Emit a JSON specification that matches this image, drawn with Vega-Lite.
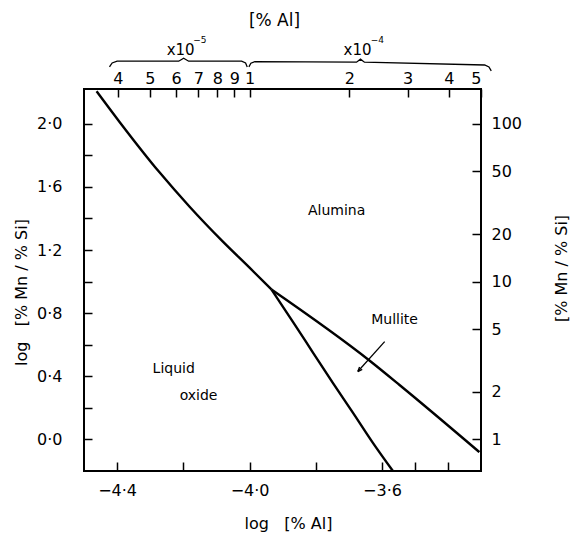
{
  "$schema": "https://vega.github.io/schema/vega-lite/v6.json",
  "width": 397,
  "height": 382,
  "autosize": "none",
  "padding": {"left": 84, "top": 89, "right": 94, "bottom": 62},
  "background": "white",
  "config": {
    "font": "DejaVu Sans",
    "view": {"stroke": "black", "strokeWidth": 2},
    "axis": {
      "domain": false,
      "grid": false,
      "tickColor": "black",
      "tickWidth": 1.5,
      "labelColor": "black",
      "labelFontSize": 15,
      "labelFont": "DejaVu Sans",
      "titleFont": "DejaVu Sans",
      "titleFontWeight": "normal",
      "titleColor": "black",
      "titleFontSize": 15
    }
  },
  "datasets": {
    "boundaries": [
      {"curve": "liquid-alumina", "i": 1, "logAl": -4.462, "logMnSi": 2.206},
      {"curve": "liquid-alumina", "i": 2, "logAl": -4.392, "logMnSi": 2.010},
      {"curve": "liquid-alumina", "i": 3, "logAl": -4.272, "logMnSi": 1.692},
      {"curve": "liquid-alumina", "i": 4, "logAl": -4.181, "logMnSi": 1.474},
      {"curve": "liquid-alumina", "i": 5, "logAl": -4.082, "logMnSi": 1.256},
      {"curve": "liquid-alumina", "i": 6, "logAl": -4.000, "logMnSi": 1.088},
      {"curve": "liquid-alumina", "i": 7, "logAl": -3.934, "logMnSi": 0.950},
      {"curve": "liquid-mullite", "i": 1, "logAl": -3.934, "logMnSi": 0.950},
      {"curve": "liquid-mullite", "i": 2, "logAl": -3.869, "logMnSi": 0.745},
      {"curve": "liquid-mullite", "i": 3, "logAl": -3.809, "logMnSi": 0.552},
      {"curve": "liquid-mullite", "i": 4, "logAl": -3.749, "logMnSi": 0.360},
      {"curve": "liquid-mullite", "i": 5, "logAl": -3.688, "logMnSi": 0.170},
      {"curve": "liquid-mullite", "i": 6, "logAl": -3.628, "logMnSi": -0.020},
      {"curve": "liquid-mullite", "i": 7, "logAl": -3.567, "logMnSi": -0.200},
      {"curve": "mullite-alumina", "i": 1, "logAl": -3.934, "logMnSi": 0.950},
      {"curve": "mullite-alumina", "i": 2, "logAl": -3.638, "logMnSi": 0.500},
      {"curve": "mullite-alumina", "i": 3, "logAl": -3.547, "logMnSi": 0.345},
      {"curve": "mullite-alumina", "i": 4, "logAl": -3.306, "logMnSi": -0.080}
    ],
    "regions": [
      {"name": "Alumina", "logAl": -3.737, "logMnSi": 1.445},
      {"name": "Mullite", "logAl": -3.562, "logMnSi": 0.754},
      {"name": "Liquid", "logAl": -4.229, "logMnSi": 0.444},
      {"name": "oxide", "logAl": -4.154, "logMnSi": 0.273}
    ],
    "pointer": [
      {"logAl": -3.592, "logMnSi": 0.62, "logAl2": -3.673, "logMnSi2": 0.43}
    ],
    "braces": [
      {"group": "e-5", "i": 1, "logAl": -4.423, "logMnSi": 2.360},
      {"group": "e-5", "i": 2, "logAl": -4.415, "logMnSi": 2.385},
      {"group": "e-5", "i": 3, "logAl": -4.400, "logMnSi": 2.396},
      {"group": "e-5", "i": 4, "logAl": -4.214, "logMnSi": 2.396},
      {"group": "e-5", "i": 5, "logAl": -4.199, "logMnSi": 2.415},
      {"group": "e-5", "i": 6, "logAl": -4.184, "logMnSi": 2.396},
      {"group": "e-5", "i": 7, "logAl": -4.024, "logMnSi": 2.396},
      {"group": "e-5", "i": 8, "logAl": -4.012, "logMnSi": 2.385},
      {"group": "e-5", "i": 9, "logAl": -4.007, "logMnSi": 2.360},
      {"group": "e-4", "i": 1, "logAl": -4.002, "logMnSi": 2.360},
      {"group": "e-4", "i": 2, "logAl": -3.996, "logMnSi": 2.383},
      {"group": "e-4", "i": 3, "logAl": -3.984, "logMnSi": 2.393},
      {"group": "e-4", "i": 4, "logAl": -3.677, "logMnSi": 2.390},
      {"group": "e-4", "i": 5, "logAl": -3.665, "logMnSi": 2.409},
      {"group": "e-4", "i": 6, "logAl": -3.653, "logMnSi": 2.390},
      {"group": "e-4", "i": 7, "logAl": -3.290, "logMnSi": 2.372},
      {"group": "e-4", "i": 8, "logAl": -3.277, "logMnSi": 2.360},
      {"group": "e-4", "i": 9, "logAl": -3.270, "logMnSi": 2.335}
    ],
    "multipliers": [
      {"text": "x10", "logAl": -4.208, "logMnSi": 2.47},
      {"text": "x10", "logAl": -3.674, "logMnSi": 2.47}
    ],
    "exponents": [
      {"text": "−5", "logAl": -4.150, "logMnSi": 2.53},
      {"text": "−4", "logAl": -3.614, "logMnSi": 2.53}
    ]
  },
  "layer": [
    {
      "data": {"name": "boundaries"},
      "mark": {"type": "line", "color": "black", "strokeWidth": 2.4, "interpolate": "monotone", "clip": true},
      "encoding": {
        "x": {
          "field": "logAl", "type": "quantitative",
          "scale": {"domain": [-4.5, -3.301], "nice": false, "zero": false},
          "axis": {
            "orient": "bottom",
            "values": [-4.4, -4.2, -4.0, -3.8, -3.6, -3.5, -3.4],
            "labelExpr": "indexof([-4.4, -4, -3.6], datum.value) >= 0 ? replace(format(datum.value, '.1f'), '.', '·') : ''",
            "tickSize": -9,
            "labelPadding": 20,
            "labelFontSize": 16,
            "title": "log\u00a0\u00a0\u00a0[% Al]",
            "titleFontSize": 16,
            "titleX": 204,
            "titleY": 52,
            "titleBaseline": "middle"
          }
        },
        "y": {
          "field": "logMnSi", "type": "quantitative",
          "scale": {"domain": [-0.2, 2.22], "nice": false, "zero": false},
          "axis": {
            "orient": "left",
            "values": [0, 0.2, 0.4, 0.6, 0.8, 1.0, 1.2, 1.4, 1.6, 1.8, 2.0],
            "labelExpr": "round(datum.value * 10) % 4 == 0 ? replace(format(datum.value, '.1f'), '.', '·') : ''",
            "tickSize": -8,
            "labelPadding": 30,
            "labelFontSize": 16,
            "title": "log\u00a0\u00a0\u00a0[% Mn / % Si]",
            "titleFontSize": 16,
            "titleX": -63,
            "titleY": 203,
            "titleAngle": 270,
            "titleBaseline": "middle"
          }
        },
        "detail": {"field": "curve"},
        "order": {"field": "i"}
      }
    },
    {
      "data": {"name": "regions"},
      "mark": {"type": "text", "fontSize": 14, "align": "center", "baseline": "middle", "color": "black"},
      "encoding": {
        "x": {
          "field": "logAl", "type": "quantitative",
          "scale": {"domain": [-4.5, -3.301], "nice": false, "zero": false},
          "axis": {
            "orient": "top",
            "values": [-4.39794, -4.30103, -4.22185, -4.15490, -4.09691, -4.04576, -4.0, -3.69897, -3.52288, -3.39794, -3.30103],
            "labelExpr": "datum.value < -4.001 ? format(pow(10, datum.value + 5), '.0f') : format(pow(10, datum.value + 4), '.0f')",
            "tickSize": -8,
            "labelPadding": 11,
            "labelFontSize": 16,
            "title": "[% Al]",
            "titleFontSize": 17,
            "titleX": 190,
            "titleY": -69,
            "titleBaseline": "middle"
          }
        },
        "y": {
          "field": "logMnSi", "type": "quantitative",
          "scale": {"domain": [-0.2, 2.22], "nice": false, "zero": false},
          "axis": {
            "orient": "right",
            "values": [0, 0.30103, 0.69897, 1.0, 1.30103, 1.69897, 2.0],
            "labelExpr": "format(pow(10, datum.value), '.0f')",
            "tickSize": -9,
            "labelPadding": 19,
            "labelFontSize": 16,
            "title": "[% Mn / % Si]",
            "titleFontSize": 16,
            "titleX": 80,
            "titleY": 179,
            "titleAngle": 270,
            "titleBaseline": "middle"
          }
        },
        "text": {"field": "name"}
      }
    },
    {
      "data": {"name": "pointer"},
      "mark": {"type": "rule", "color": "black", "strokeWidth": 1.3},
      "encoding": {
        "x": {"field": "logAl", "type": "quantitative", "axis": null, "scale": {"domain": [-4.5, -3.301], "nice": false, "zero": false}},
        "y": {"field": "logMnSi", "type": "quantitative", "axis": null, "scale": {"domain": [-0.2, 2.22], "nice": false, "zero": false}},
        "x2": {"field": "logAl2"},
        "y2": {"field": "logMnSi2"}
      }
    },
    {
      "data": {"name": "pointer"},
      "mark": {"type": "point", "shape": "M0,0 L-0.5,1.3 M0,0 L0.5,1.3", "filled": false, "stroke": "black", "strokeWidth": 1.4, "size": 50, "angle": 222, "opacity": 1},
      "encoding": {
        "x": {"field": "logAl2", "type": "quantitative", "axis": null, "scale": {"domain": [-4.5, -3.301], "nice": false, "zero": false}},
        "y": {"field": "logMnSi2", "type": "quantitative", "axis": null, "scale": {"domain": [-0.2, 2.22], "nice": false, "zero": false}}
      }
    },
    {
      "data": {"name": "braces"},
      "mark": {"type": "line", "color": "black", "strokeWidth": 1.3, "interpolate": "linear", "clip": false},
      "encoding": {
        "x": {"field": "logAl", "type": "quantitative", "axis": null, "scale": {"domain": [-4.5, -3.301], "nice": false, "zero": false}},
        "y": {"field": "logMnSi", "type": "quantitative", "axis": null, "scale": {"domain": [-0.2, 2.22], "nice": false, "zero": false}},
        "detail": {"field": "group"},
        "order": {"field": "i"}
      }
    },
    {
      "data": {"name": "multipliers"},
      "mark": {"type": "text", "fontSize": 15, "align": "center", "baseline": "middle", "color": "black"},
      "encoding": {
        "x": {"field": "logAl", "type": "quantitative", "axis": null, "scale": {"domain": [-4.5, -3.301], "nice": false, "zero": false}},
        "y": {"field": "logMnSi", "type": "quantitative", "axis": null, "scale": {"domain": [-0.2, 2.22], "nice": false, "zero": false}},
        "text": {"field": "text"}
      }
    },
    {
      "data": {"name": "exponents"},
      "mark": {"type": "text", "fontSize": 9, "align": "center", "baseline": "middle", "color": "black"},
      "encoding": {
        "x": {"field": "logAl", "type": "quantitative", "axis": null, "scale": {"domain": [-4.5, -3.301], "nice": false, "zero": false}},
        "y": {"field": "logMnSi", "type": "quantitative", "axis": null, "scale": {"domain": [-0.2, 2.22], "nice": false, "zero": false}},
        "text": {"field": "text"}
      }
    }
  ],
  "resolve": {"axis": {"x": "independent", "y": "independent"}}
}
